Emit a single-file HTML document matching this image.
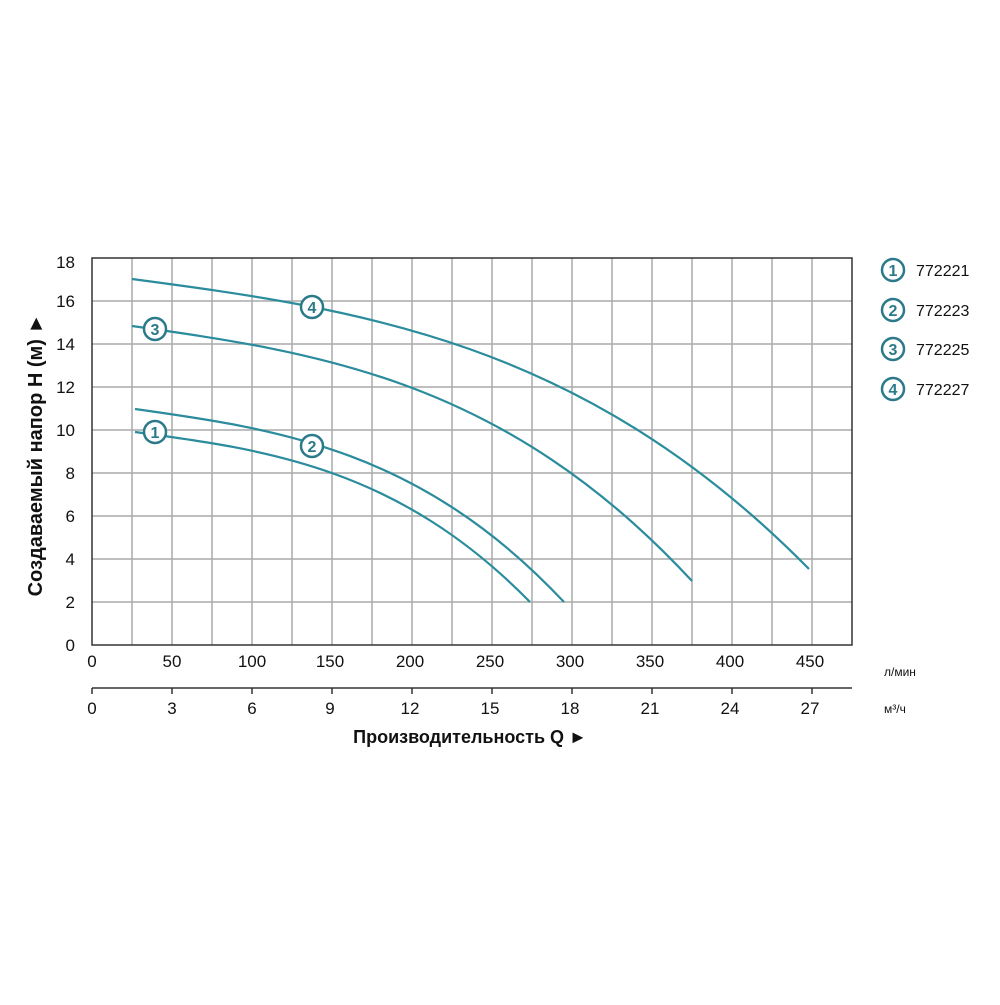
<!DOCTYPE html>
<html><head><meta charset="utf-8"><style>body{margin:0;background:#fff}</style></head><body>
<svg width="1000" height="1000" xmlns="http://www.w3.org/2000/svg" font-family="Liberation Sans, sans-serif">
<rect width="1000" height="1000" fill="#fff"/>
<g stroke="#aaa" stroke-width="1.5">
<line x1="132" y1="258" x2="132" y2="645"/><line x1="172" y1="258" x2="172" y2="645"/><line x1="212" y1="258" x2="212" y2="645"/><line x1="252" y1="258" x2="252" y2="645"/><line x1="292" y1="258" x2="292" y2="645"/><line x1="332" y1="258" x2="332" y2="645"/><line x1="372" y1="258" x2="372" y2="645"/><line x1="412" y1="258" x2="412" y2="645"/><line x1="452" y1="258" x2="452" y2="645"/><line x1="492" y1="258" x2="492" y2="645"/><line x1="532" y1="258" x2="532" y2="645"/><line x1="572" y1="258" x2="572" y2="645"/><line x1="612" y1="258" x2="612" y2="645"/><line x1="652" y1="258" x2="652" y2="645"/><line x1="692" y1="258" x2="692" y2="645"/><line x1="732" y1="258" x2="732" y2="645"/><line x1="772" y1="258" x2="772" y2="645"/><line x1="812" y1="258" x2="812" y2="645"/>
<line x1="92" y1="301" x2="852" y2="301"/><line x1="92" y1="344" x2="852" y2="344"/><line x1="92" y1="387" x2="852" y2="387"/><line x1="92" y1="430" x2="852" y2="430"/><line x1="92" y1="473" x2="852" y2="473"/><line x1="92" y1="516" x2="852" y2="516"/><line x1="92" y1="559" x2="852" y2="559"/><line x1="92" y1="602" x2="852" y2="602"/>
</g>
<rect x="92" y="258" width="760" height="387" fill="none" stroke="#333" stroke-width="1.5"/>
<g font-size="17" fill="#111" text-anchor="end">
<text x="75" y="651">0</text><text x="75" y="608">2</text><text x="75" y="565">4</text><text x="75" y="522">6</text><text x="75" y="479">8</text><text x="75" y="436">10</text><text x="75" y="393">12</text><text x="75" y="350">14</text><text x="75" y="307">16</text><text x="75" y="268">18</text>
</g>
<g font-size="17" fill="#111" text-anchor="middle">
<text x="92" y="667">0</text><text x="172" y="667">50</text><text x="252" y="667">100</text><text x="330" y="667">150</text><text x="410" y="667">200</text><text x="490" y="667">250</text><text x="570" y="667">300</text><text x="650" y="667">350</text><text x="730" y="667">400</text><text x="810" y="667">450</text>
<text x="92" y="714">0</text><text x="172" y="714">3</text><text x="252" y="714">6</text><text x="330" y="714">9</text><text x="410" y="714">12</text><text x="490" y="714">15</text><text x="570" y="714">18</text><text x="650" y="714">21</text><text x="730" y="714">24</text><text x="810" y="714">27</text>
</g>
<g stroke="#333" stroke-width="1.5">
<line x1="92" y1="688" x2="852" y2="688"/>
<line x1="92" y1="688" x2="92" y2="694"/><line x1="172" y1="688" x2="172" y2="694"/><line x1="252" y1="688" x2="252" y2="694"/><line x1="332" y1="688" x2="332" y2="694"/><line x1="412" y1="688" x2="412" y2="694"/><line x1="492" y1="688" x2="492" y2="694"/><line x1="572" y1="688" x2="572" y2="694"/><line x1="652" y1="688" x2="652" y2="694"/><line x1="732" y1="688" x2="732" y2="694"/><line x1="812" y1="688" x2="812" y2="694"/>
</g>
<text x="884" y="676" font-size="12" fill="#111">л/мин</text>
<text x="884" y="713" font-size="12" fill="#111">м³/ч</text>
<text x="470" y="743" font-size="18" font-weight="bold" fill="#111" text-anchor="middle">Производительность Q ►</text>
<text transform="translate(42,455) rotate(-90)" font-size="20" font-weight="bold" fill="#111" text-anchor="middle">Создаваемый напор H (м) ►</text>
<g fill="none" stroke="#2a8c9c" stroke-width="2.2">
<path d="M132,279 C357.7,309 583.3,340 809,569"/>
<path d="M132,326 C318.5,352.4 505.5,379.6 692,581"/>
<path d="M135,409 C278,429 421,449.5 564,602"/>
<path d="M135,432 C266.6,449.6 398.5,467.7 530,602"/>
</g>
<g fill="#fff" stroke="#2a7a8a" stroke-width="2.5">
<circle cx="155" cy="432" r="11"/><circle cx="312" cy="446" r="11"/><circle cx="155" cy="329" r="11"/><circle cx="312" cy="307" r="11"/>
<circle cx="893" cy="270" r="11"/><circle cx="893" cy="310" r="11"/><circle cx="893" cy="349" r="11"/><circle cx="893" cy="389" r="11"/>
</g>
<g font-size="16" font-weight="bold" fill="#2a7a8a" text-anchor="middle">
<text x="155" y="438">1</text><text x="312" y="452">2</text><text x="155" y="335">3</text><text x="312" y="313">4</text>
<text x="893" y="276">1</text><text x="893" y="316">2</text><text x="893" y="355">3</text><text x="893" y="395">4</text>
</g>
<g font-size="16" fill="#111">
<text x="916" y="276">772221</text><text x="916" y="316">772223</text><text x="916" y="355">772225</text><text x="916" y="395">772227</text>
</g>
</svg>
</body></html>
